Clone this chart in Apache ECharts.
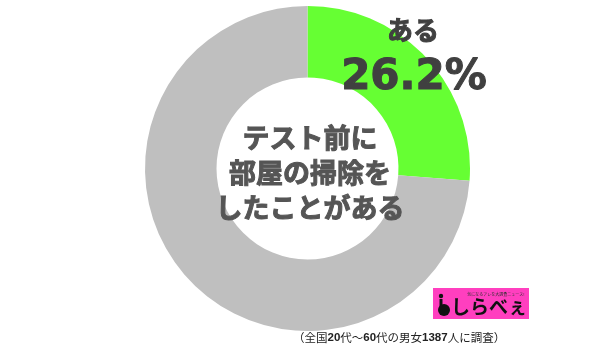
<!DOCTYPE html>
<html><head><meta charset="utf-8">
<script src="https://cdn.jsdelivr.net/npm/echarts@6/dist/echarts.min.js"></script>
<style>html,body{margin:0;padding:0;background:#fff}#c{width:600px;height:348px}</style>
</head><body><div id="c"></div>
<script>
const categories = ['ある', 'ない'];
const values = [26.2, 73.8];
const colors = ['#66ff33', '#bfbfbf'];
const centerLines = ['テスト前に', '部屋の掃除を', 'したことがある'];
const footnote = ['（全国', '20', '代～', '60', '代の男女', '1387', '人に調査）'];

const chart = echarts.init(document.getElementById('c'), null, {renderer: 'canvas'});
const jp = '"Noto Sans CJK JP", sans-serif';
const footRich = footnote.map(t => (/^\d+$/.test(t) ? '{b|' + t + '}' : '{n|' + t + '}')).join('');
chart.setOption({
  animation: false,
  backgroundColor: '#ffffff',
  series: [{
    type: 'pie',
    center: [307.5, 168.5],
    radius: [91, 162.5],
    startAngle: 90,
    clockwise: true,
    label: {show: false},
    labelLine: {show: false},
    emphasis: {disabled: true},
    itemStyle: {borderWidth: 0},
    data: categories.map((c, i) => ({name: c, value: values[i], itemStyle: {color: colors[i]}}))
  }],
  graphic: [
    {type: 'text', z: 100, x: 413, y: 30, style: {text: categories[0], font: 'bold 26px ' + jp, fill: '#404040', stroke: '#404040', lineWidth: 1, align: 'center', verticalAlign: 'middle'}},
    {type: 'text', z: 100, x: 414, y: 78, style: {text: values[0].toFixed(1) + '%', font: 'bold 42px "DejaVu Sans"', fill: '#404040', stroke: '#404040', lineWidth: 1, align: 'center', verticalAlign: 'middle'}},
    {type: 'text', z: 100, x: 310, y: 173, style: {text: centerLines.join('\n'), font: 'bold 27px ' + jp, lineHeight: 35, fill: '#555555', stroke: '#555555', lineWidth: 1, align: 'center', verticalAlign: 'middle'}},
    {type: 'rect', z: 100, shape: {x: 433, y: 288, width: 96, height: 31}, style: {fill: '#ff3fbf'}},
    {type: 'text', z: 101, x: 496, y: 294, style: {text: '気になるアレを大調査ニュース!', font: '4px ' + jp, fill: '#333', align: 'center', verticalAlign: 'middle'}},
    {type: 'circle', z: 101, shape: {cx: 441, cy: 296, r: 2.2}, style: {fill: '#111'}},
    {type: 'circle', z: 101, shape: {cx: 444, cy: 310, r: 6}, style: {fill: '#111'}},
    {type: 'rect', z: 101, shape: {x: 439.5, y: 299, width: 3, height: 8}, style: {fill: '#111'}},
    {type: 'text', z: 101, x: 489, y: 307, style: {text: 'しらべぇ', font: 'bold 19px ' + jp, fill: '#111', align: 'center', verticalAlign: 'middle'}},
    {type: 'text', z: 100, x: 293, y: 338, style: {text: footRich, align: 'left', verticalAlign: 'middle',
      rich: {n: {font: '11.5px ' + jp, fill: '#222'}, b: {font: 'bold 11.5px "Liberation Sans"', fill: '#222'}}}}
  ]
});
</script></body></html>
